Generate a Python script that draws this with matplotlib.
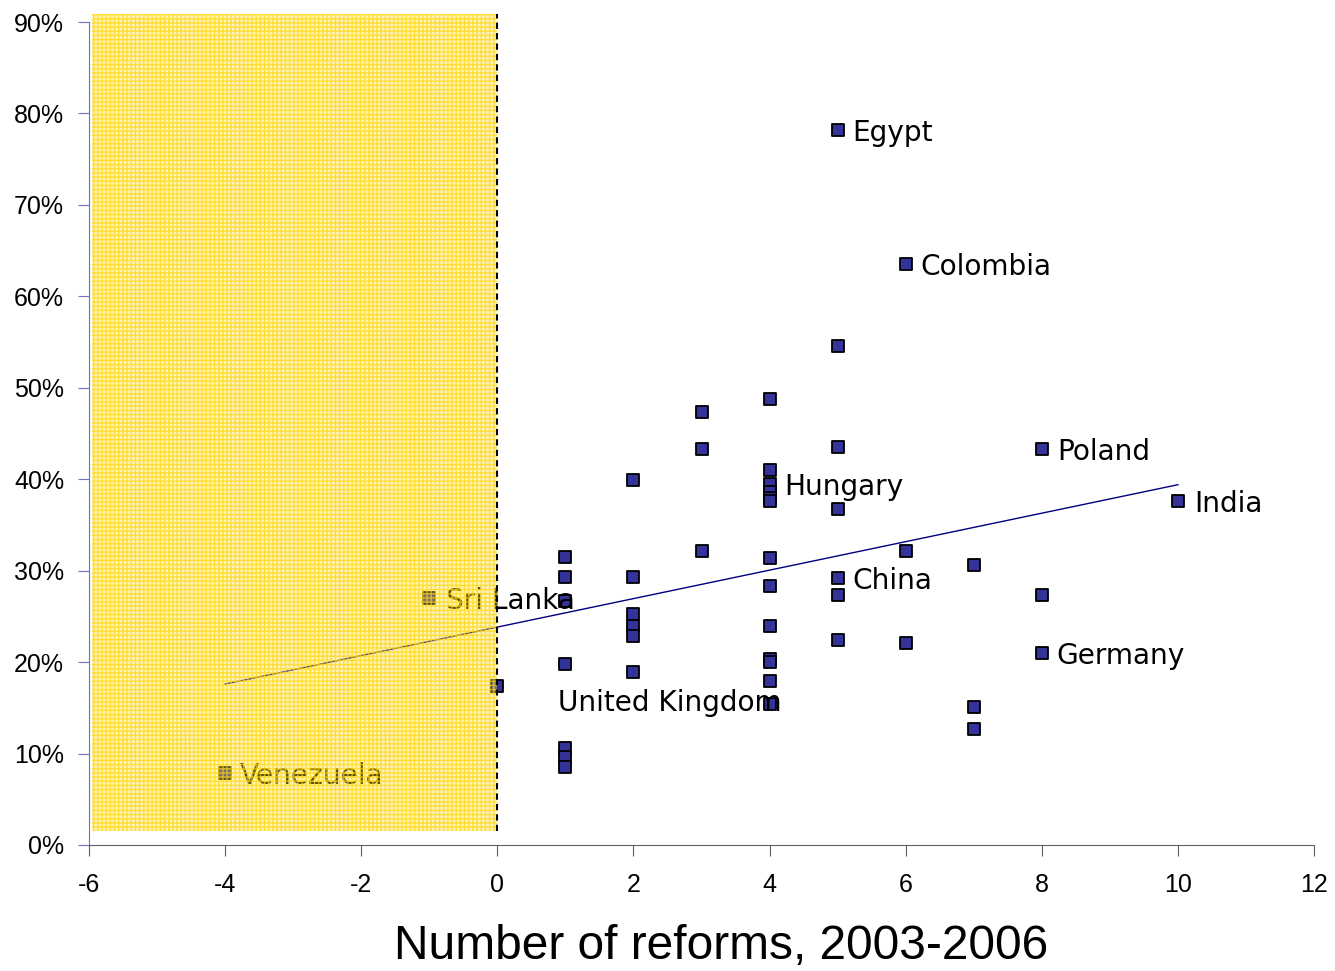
import matplotlib
matplotlib.use('Agg')
import matplotlib.pyplot as plt
import numpy as np
from matplotlib.patches import Rectangle
from matplotlib.ticker import FuncFormatter

plt.rcParams['axes.unicode_minus'] = False
plt.rcParams['hatch.linewidth'] = 1.0

# reforms vs. value (share, %)
reforms = [5, 6, 5, 4, 3, 3, 5, 8, 2, 4, 4, 4, 4, 4, 10, 5,
           1, 3, 4, 6, 7, 1, 2, 4, 5, 5, 8, -1, 1, 2, 2, 2, 4, 5, 6,
           1, 4, 4, 8, 2, 4, 0, 4, 7, 7, 1, 1, 1, -4]
values = [78.2, 63.5, 54.6, 48.8, 47.4, 43.3, 43.5, 43.3, 39.9, 41.0, 39.5, 38.6, 38.0, 37.6, 37.6, 36.7,
          31.5, 32.2, 31.4, 32.2, 30.6, 29.3, 29.3, 28.3, 29.2, 27.3, 27.3, 27.0, 26.7, 25.3, 23.9, 22.8, 24.0, 22.4, 22.1,
          19.8, 20.3, 20.0, 21.0, 18.9, 17.9, 17.4, 15.4, 15.1, 12.7, 10.6, 9.6, 8.5, 7.9]

# labelled countries: name, x, y of label (data units)
lab_names = ['Egypt', 'Colombia', 'Poland', 'Hungary', 'India', 'China',
             'Sri Lanka', 'Germany', 'United Kingdom', 'Venezuela']
lab_x = [5, 6, 8, 4, 10, 5, -1, 8, 0.89, -4]
lab_y = [78.2, 63.5, 43.3, 39.5, 37.6, 29.2, 27.0, 21.0, 15.9, 7.9]
lab_shift = [0.22, 0.22, 0.22, 0.22, 0.24, 0.22, 0.24, 0.22, 0.0, 0.22]

# trend line endpoints
trend_x = [-4, 10]
trend_y = [17.6, 39.4]

fig = plt.figure(figsize=(13.35, 9.71), dpi=100)
ax = fig.add_axes([0.0667, 0.1298, 0.9176, 0.8475])

ax.scatter(reforms, values, marker='s', s=75, c='#333399', edgecolors='black',
           linewidths=1.3, zorder=2, clip_on=False)
ax.plot(trend_x, trend_y, color='#000080', lw=1.0, zorder=2)

for n, x, y, d in zip(lab_names, lab_x, lab_y, lab_shift):
    ax.text(x + d, y, n, fontsize=20.2, family='DejaVu Sans', va='center_baseline', ha='left', zorder=3)

# shaded "negative reforms" area (light fill + yellow grid pattern)
shade = Rectangle((-5.95, 1.5), 5.95, 89.4, facecolor=(1.0, 0.87, 0.25, 0.36),
                  edgecolor=(1.0, 0.84, 0.0, 0.7), hatch='++++', lw=0, zorder=4, clip_on=False)
ax.add_patch(shade)
ax.plot([0, 0], [1.5, 90.9], color='black', lw=1.5, ls=(0, (3, 2)), zorder=5, clip_on=False)

ax.set_xlim(-6, 12)
ax.set_ylim(0, 90)
ax.set_xticks(np.arange(-6, 13, 2))
ax.set_yticks(np.arange(0, 91, 10))
ax.yaxis.set_major_formatter(FuncFormatter(lambda v, p: '%d%%' % v))
for s in ['top', 'right']:
    ax.spines[s].set_visible(False)
ax.spines['left'].set_color('#7070c0')
ax.spines['bottom'].set_color('#606060')
ax.tick_params(axis='y', direction='out', length=8, color='#7070c0', labelsize=18, pad=10)
ax.tick_params(axis='x', direction='out', length=8, color='#606060', labelsize=18, pad=12)
for t in ax.get_xticklabels() + ax.get_yticklabels():
    t.set_family('Liberation Sans')

fig.text(0.540, 0.025, 'Number of reforms, 2003-2006', fontsize=34.5, family='Liberation Sans',
         ha='center', va='center')

fig.savefig('out.png', dpi=100)
